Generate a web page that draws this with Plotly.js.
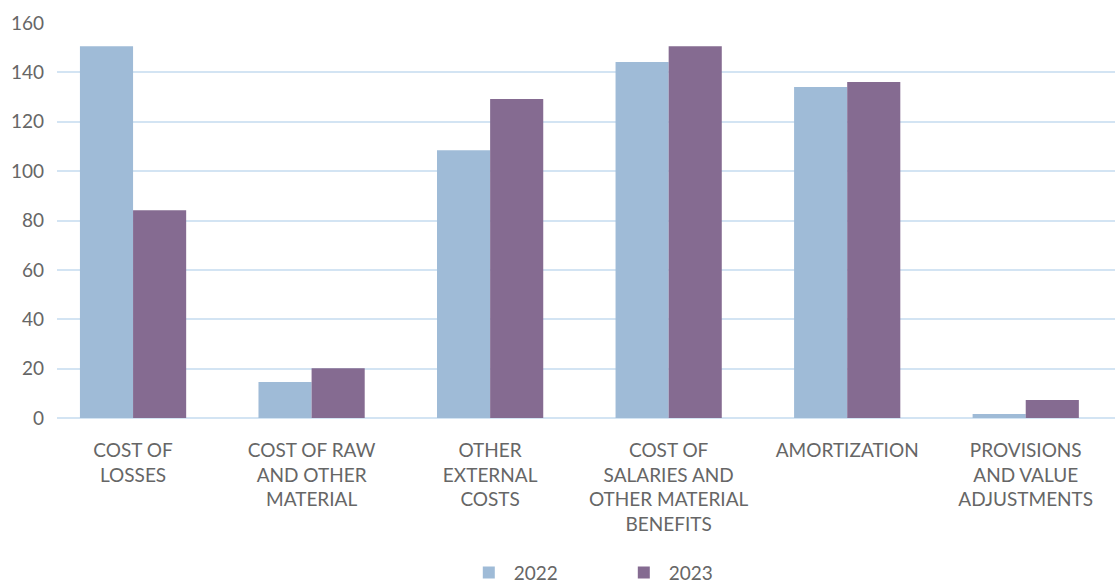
<!DOCTYPE html>
<html>
<head>
<meta charset="utf-8">
<script src="https://cdn.plot.ly/plotly-3.0.1.min.js"></script>
<style>html,body{margin:0;padding:0;background:#fff;}#chart{width:1115px;height:588px;}</style>
</head>
<body>
<div id="chart"></div>
<script>
const categories = [
  "COST OF<br>LOSSES",
  "COST OF RAW<br>AND OTHER<br>MATERIAL",
  "OTHER<br>EXTERNAL<br>COSTS",
  "COST OF<br>SALARIES AND<br>OTHER MATERIAL<br>BENEFITS",
  "AMORTIZATION",
  "PROVISIONS<br>AND VALUE<br>ADJUSTMENTS"
];
const values2022 = [150.6, 14.6, 108.5, 144.2, 134.1, 1.6];
const values2023 = [84.2, 20.2, 129.2, 150.6, 136.1, 7.3];
const yTicks = [0, 20, 40, 60, 80, 100, 120, 140, 160];

const font = "Lato, 'Open Sans', sans-serif";
const data = [
  {type: "bar", name: "2022", x: categories, y: values2022, marker: {color: "#9fbbd7"}},
  {type: "bar", name: "2023", x: categories, y: values2023, marker: {color: "#856b91"}}
];
const layout = {
  width: 1115, height: 588,
  margin: {l: 57, r: 0, t: 23, b: 170},
  paper_bgcolor: "#fff", plot_bgcolor: "#fff",
  barmode: "group", bargap: 0.405, bargroupgap: 0,
  font: {family: font, color: "#666666", size: 18},
  xaxis: {
    type: "category", range: [-0.426, 5.5], showgrid: false, showline: false, automargin: false,
    zeroline: false, ticks: "", tickfont: {size: 19, color: "#666666"}, ticklabelstandoff: 19
  },
  yaxis: {
    range: [0, 160], tickvals: yTicks, showgrid: true, gridcolor: "#d3e4f3", gridwidth: 2, automargin: false,
    zeroline: true, zerolinecolor: "#d3e4f3", zerolinewidth: 2, showline: false,
    ticks: "", tickfont: {size: 19, color: "#666666"}, ticklabelstandoff: 12
  },
  showlegend: true,
  legend: {orientation: "h", xref: "paper", x: 0.531, xanchor: "center",
    yref: "container", y: 0.026, yanchor: "middle",
    font: {size: 19, color: "#666666"}, itemwidth: 40, entrywidth: 100, traceorder: "normal"}
};
Plotly.newPlot("chart", data, layout, {displayModeBar: false, staticPlot: true});
</script>
</body>
</html>
